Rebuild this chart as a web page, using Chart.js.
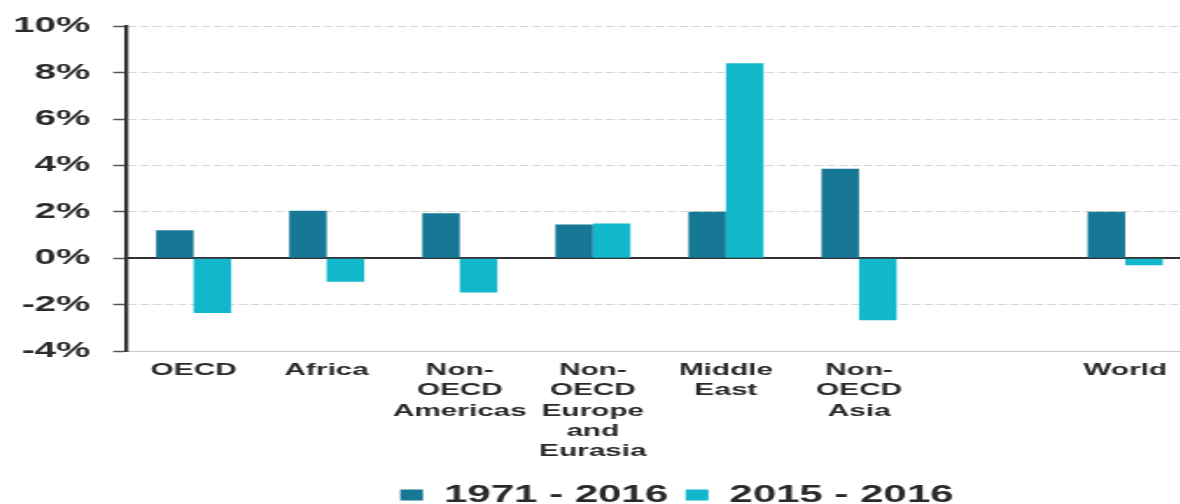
<!DOCTYPE html>
<html>
<head>
<meta charset="utf-8">
<script src="https://cdn.jsdelivr.net/npm/chart.js@4.4.1/dist/chart.umd.min.js"></script>
<style>
  html, body { margin: 0; padding: 0; background: #fff; overflow: hidden; }
  #wrap { width: 1180px; height: 504px; overflow: hidden; position: relative; }
  #c { position: absolute; left: 0; top: 0; transform: scaleX(1.75); transform-origin: 0 0; }
</style>
</head>
<body>
<div id="wrap"><canvas id="c" width="682" height="504"></canvas></div>
<script>
const categories = [
  "OECD",
  "Africa",
  ["Non-", "OECD", "Americas"],
  ["Non-", "OECD", "Europe", "and", "Eurasia"],
  ["Middle", "East"],
  ["Non-", "OECD", "Asia"],
  "",
  "World"
];
const seriesNames = ["1971 - 2016", "2015 - 2016"];
const growth1971_2016 = [1.2, 2.05, 1.94, 1.45, 2.0, 3.86, null, 2.0];
const growth2015_2016 = [-2.36, -1.02, -1.48, 1.5, 8.4, -2.67, null, -0.3];
const yMin = -4, yMax = 10, yStep = 2;

const FONT = "'Liberation Sans', Arial, sans-serif";
const TXT = '#2a2a2a';

const legendShift = {
  id: 'legendShift',
  afterLayout(chart) {
    const lg = chart.legend;
    if (lg) { lg.left += 10; lg.right += 10; }
  }
};

new Chart(document.getElementById('c'), {
  type: 'bar',
  data: {
    labels: categories,
    datasets: [
      { label: seriesNames[0], data: growth1971_2016, backgroundColor: '#177896', borderWidth: 0 },
      { label: seriesNames[1], data: growth2015_2016, backgroundColor: '#12b7cc', borderWidth: 0 }
    ]
  },
  plugins: [legendShift],
  options: {
    responsive: false,
    animation: false,
    devicePixelRatio: 1,
    datasets: { bar: { categoryPercentage: 0.564, barPercentage: 1.0 } },
    layout: { padding: { top: 25, right: 1, bottom: -13, left: 0 } },
    plugins: {
      tooltip: { enabled: false },
      legend: {
        position: 'bottom',
        fullSize: false,
        labels: {
          color: TXT,
          font: { family: FONT, size: 24, weight: 'bold' },
          boxWidth: 13,
          boxHeight: 11,
          padding: 10
        }
      }
    },
    scales: {
      x: {
        grid: { display: false },
        border: { display: true, color: '#c8c8c8', width: 1 },
        ticks: {
          color: TXT,
          font: { family: FONT, size: 17, weight: 'bold', lineHeight: 1.2 },
          padding: 1,
          maxRotation: 0,
          autoSkip: false
        },
        afterFit: (s) => { s.height = 122; }
      },
      y: {
        min: yMin, max: yMax,
        ticks: {
          stepSize: yStep,
          color: TXT,
          font: { family: FONT, size: 22, weight: 'bold' },
          padding: 13,
          callback: (v) => v + '%'
        },
        grid: {
          color: '#d6d6d6',
          lineWidth: 1,
          drawTicks: true,
          tickLength: 8,
          tickColor: '#555',
          tickWidth: 1.5
        },
        border: { display: true, color: '#333', width: 2.3, dash: [5, 2] },
        afterFit: (s) => { s.width = 72.6; }
      },
      zero: {
        type: 'linear',
        position: 'left',
        min: yMin, max: yMax,
        ticks: { display: false, stepSize: yStep },
        grid: { color: '#333', lineWidth: 2, drawTicks: false },
        border: { display: false },
        afterBuildTicks: (s) => { s.ticks = s.ticks.filter(t => t.value === 0); },
        afterFit: (s) => { s.width = 0; }
      }
    }
  }
});
</script>
</body>
</html>
